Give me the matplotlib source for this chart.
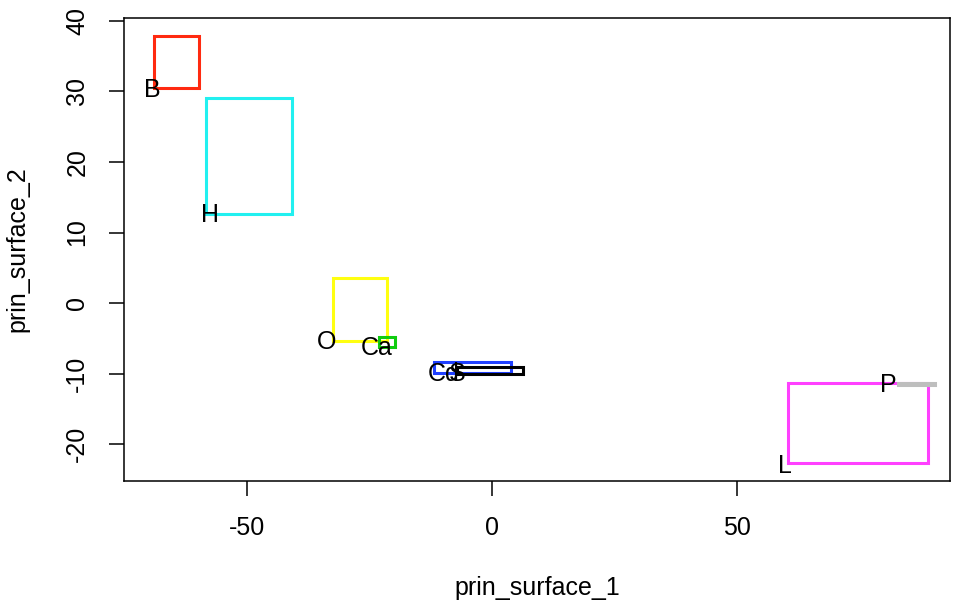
import matplotlib
matplotlib.use("Agg")
from matplotlib import pyplot as plt
from matplotlib.patches import Rectangle

plt.rcParams['font.family'] = ['Liberation Sans', 'DejaVu Sans']
plt.rcParams['axes.unicode_minus'] = False

# one rectangle per group: left, bottom, right, top
groups = ['B', 'H', 'O', 'Ca', 'Cd', 'S', 'L', 'P']
x_left = [-69.0, -58.4, -32.4, -23.1, -11.8, -7.1, 60.4, 82.9]
x_right = [-59.8, -40.8, -21.4, -19.8, 3.9, 6.3, 89.0, 90.4]
y_bottom = [30.5, 12.7, -5.4, -6.2, -9.9, -10.1, -22.7, -11.6]
y_top = [37.8, 29.0, 3.5, -4.8, -8.4, -9.1, -11.3, -11.35]
label_x = [-69.4, -57.6, -33.7, -23.5, -9.8, -7.1, 59.8, 81.0]
label_y = [30.2, 12.5, -5.5, -6.4, -10.1, -10.1, -23.1, -11.6]
colours = ['#ff2a10', '#22f0f0', '#ffff10', '#10cc10', '#1f3fff', '#000000', '#ff40ff', '#bebebe']

fig = plt.figure(figsize=(9.57, 6.05), dpi=100)
ax = fig.add_axes([124/957, 124/605, 826/957, 463/605])

for i in range(len(groups)):
    r = Rectangle((x_left[i], y_bottom[i]), x_right[i] - x_left[i], y_top[i] - y_bottom[i],
                  fill=False, edgecolor=colours[i], linewidth=2.2)
    ax.add_patch(r)
    ax.text(label_x[i], label_y[i], groups[i], fontsize=18, ha='center', va='center')

ax.set_xlim(-75.1, 93.5)
ax.set_ylim(-25.2, 40.4)
ax.set_xticks([-50, 0, 50])
ax.set_yticks([-20, -10, 0, 10, 20, 30, 40])
ax.tick_params(labelsize=18, length=11, width=1.1, pad=14)
for lab in ax.get_yticklabels():
    lab.set_rotation(90)
    lab.set_va('center')
for s in ax.spines.values():
    s.set_linewidth(1.1)
ax.set_xlabel('prin_surface_1', fontsize=18, labelpad=26)
ax.set_ylabel('prin_surface_2', fontsize=18, labelpad=26)

plt.savefig('out.png', dpi=100)
